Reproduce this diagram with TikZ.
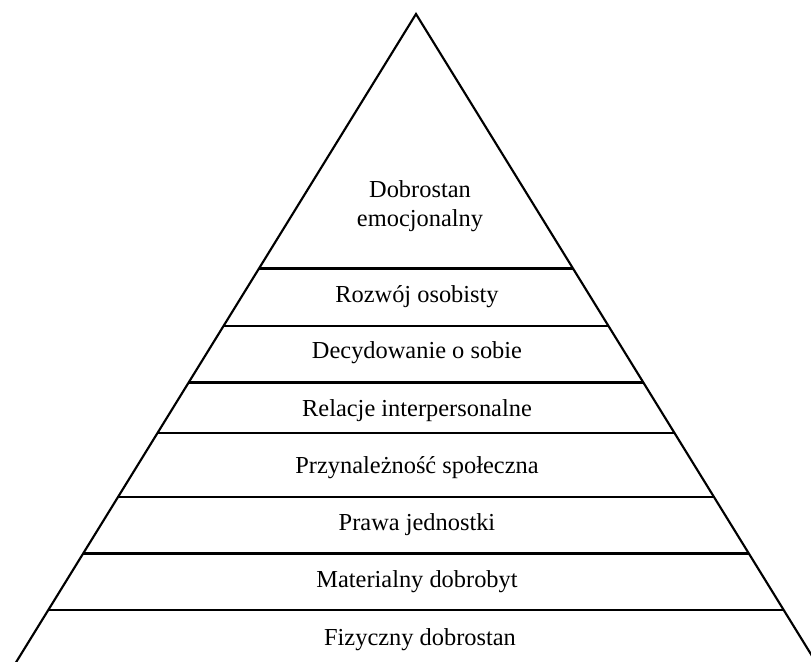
\documentclass[tikz,border=0pt]{standalone}
\usepackage{fontspec}
\setmainfont{Liberation Serif}
\begin{document}
\begin{tikzpicture}[x=0.75pt,y=-0.75pt,
  layerline/.style={line width=1.6pt},
  side/.style={line width=1.6pt},
  label/.style={font=\fontsize{18.3}{21.75}\selectfont, inner sep=0pt, anchor=base},
]
\useasboundingbox (0,0) rectangle (811,661);
\clip (0,0) rectangle (811,661);
% apex and base corners (sides extend below the frame)
\coordinate (apex) at (416,14);
\coordinate (bl) at (-20.8,722);
\coordinate (br) at (852.8,722);
\draw[side] (bl) -- (apex) -- (br);
% layer lines
\foreach \n/\y in {1/268.5,2/326,3/382.5,4/432.8,5/496.7,6/553.5,7/610}{
  \pgfmathsetmacro{\dx}{0.6174*(\y-14)}
  \coordinate (l\n) at ({416-\dx},\y);
  \coordinate (r\n) at ({416+\dx},\y);
  \draw[layerline] (l\n) -- (r\n);
}
\node[label, align=center, anchor=center] (t0) at (420,206) {Dobrostan\\emocjonalny};
\node[label] (t1) at (417,302) {Rozwój osobisty};
\node[label] (t2) at (417,358) {Decydowanie o sobie};
\node[label] (t3) at (417,416) {Relacje interpersonalne};
\node[label] (t4) at (417,473) {Przynależność społeczna};
\node[label] (t5) at (417,530.5) {Prawa jednostki};
\node[label] (t6) at (417,587) {Materialny dobrobyt};
\node[label] (t7) at (420,645) {Fizyczny dobrostan};
\end{tikzpicture}
\end{document}
